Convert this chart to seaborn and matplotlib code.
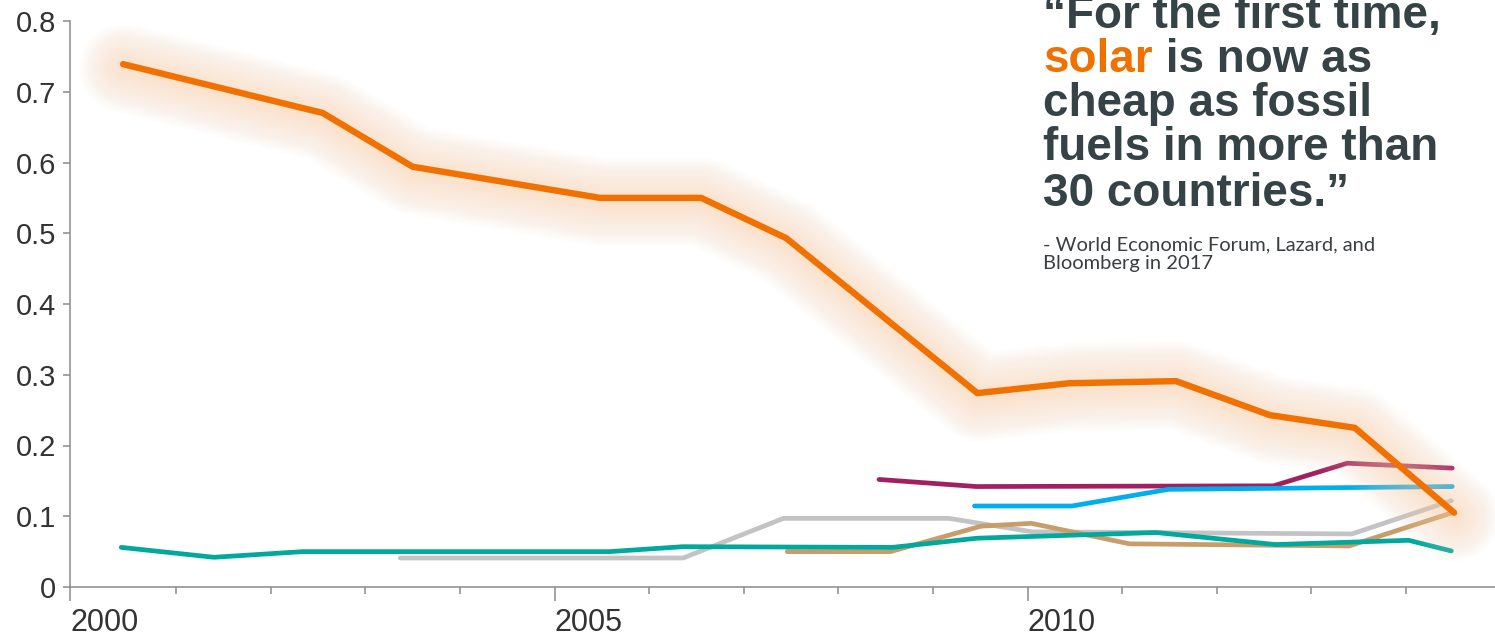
import numpy as np
import pandas as pd
import matplotlib
matplotlib.use("Agg")
import matplotlib.pyplot as plt
import matplotlib.transforms as mtransforms
import seaborn as sns

# ---------------- data (x = decimal year) ----------------
solar_x = [2000.44, 2002.55, 2003.50, 2005.48, 2006.55, 2007.45, 2009.47,
           2010.44, 2011.57, 2012.56, 2013.46, 2014.51]
solar_y = [0.739, 0.670, 0.594, 0.550, 0.550, 0.493, 0.274,
           0.288, 0.291, 0.243, 0.225, 0.105]

teal_x = [2000.42, 2001.40, 2002.34, 2005.58, 2006.36, 2008.57, 2009.47,
          2011.36, 2012.62, 2014.03, 2014.48]
teal_y = [0.056, 0.042, 0.050, 0.050, 0.057, 0.056, 0.069,
          0.077, 0.060, 0.066, 0.051]

gray_x = [2003.37, 2006.36, 2007.42, 2009.17, 2010.05, 2013.43, 2014.48]
gray_y = [0.041, 0.041, 0.097, 0.097, 0.078, 0.075, 0.122]

tan_x = [2007.46, 2008.55, 2009.51, 2010.04, 2011.08, 2013.40, 2014.49]
tan_y = [0.050, 0.050, 0.086, 0.090, 0.061, 0.058, 0.105]

magenta_x = [2008.43, 2009.46, 2012.60, 2013.38, 2014.49]
magenta_y = [0.152, 0.142, 0.143, 0.175, 0.168]

blue_x = [2009.44, 2010.47, 2011.49, 2014.49]
blue_y = [0.1145, 0.1145, 0.138, 0.142]

y_ticks = [0, 0.1, 0.2, 0.3, 0.4, 0.5, 0.6, 0.7, 0.8]
y_tick_labels = ["0", "0.1", "0.2", "0.3", "0.4", "0.5", "0.6", "0.7", "0.8"]
x_major_labels = ["2000", "2005", "2010"]
minor_years = list(range(2001, 2015))

quote_lines = ["\u201cFor the first time,", "solar", " is now as",
               "cheap as fossil", "fuels in more than", "30 countries.\u201d"]
source_lines = ["- World Economic Forum, Lazard, and", "Bloomberg in 2017"]

# ---------------- styling ----------------
ORANGE = "#F07000"
GLOW = "#FAD3AE"
TEAL = "#00A99B"
GRAY = "#C3C3C5"
TAN = "#C99D6A"
MAGENTA = "#A2205F"
BLUE = "#00AEEF"
TEXT_DARK = "#354246"
AXIS_GRAY = "#8A8A8A"

sns.set_theme(style="white")
plt.rcParams["font.family"] = ["Liberation Sans", "DejaVu Sans"]

W, H = 1495, 637
fig = plt.figure(figsize=(W / 100, H / 100), dpi=100)
ax_left, ax_right = 70 / W, 1.0
ax_bottom, ax_top = (H - 587) / H, (H - 21) / H
ax = fig.add_axes([ax_left, ax_bottom, ax_right - ax_left, ax_top - ax_bottom])
ax.patch.set_alpha(0)

x_lo = 2000 + (70 - 81.5) / 94.6
x_hi = 2000 + (1495 - 81.5) / 94.6

def draw(xs, ys, color, lw, z, alpha=1.0, offset=None):
    df = pd.DataFrame({"x": xs, "y": ys})
    sns.lineplot(data=df, x="x", y="y", color=color, lw=lw, ax=ax,
                 sort=False, estimator=None, zorder=z, alpha=alpha,
                 solid_capstyle="round", solid_joinstyle="round")
    line = ax.lines[-1]
    if offset is not None:
        line.set_transform(ax.transData + mtransforms.ScaledTranslation(
            offset[0] / 100, offset[1] / 100, fig.dpi_scale_trans))

LW = 3.4
draw(gray_x, gray_y, GRAY, LW, 2)
draw(tan_x, tan_y, TAN, LW, 3)
draw(teal_x, teal_y, TEAL, LW, 4)
draw(magenta_x, magenta_y, MAGENTA, LW, 4)
draw(blue_x, blue_y, BLUE, LW, 4)

# soft glow behind the solar line
for w in np.linspace(64, 6, 22):
    draw(solar_x, solar_y, GLOW, w, 5, alpha=0.03, offset=(1, -4))
draw(solar_x, solar_y, ORANGE, 4.6, 6)

ax.set_xlim(x_lo, x_hi)
ax.set_ylim(0, 0.8)
ax.set_xlabel("")
ax.set_ylabel("")

ax.set_yticks(y_ticks)
ax.set_yticklabels(y_tick_labels)
ax.set_xticks([x_lo, 2005, 2010])
ax.set_xticklabels(x_major_labels, ha="left")
ax.set_xticks(minor_years, minor=True)

for s in ["top", "right"]:
    ax.spines[s].set_visible(False)
for s in ["left", "bottom"]:
    ax.spines[s].set_color(AXIS_GRAY)
    ax.spines[s].set_linewidth(1.1)

ax.tick_params(axis="y", which="major", direction="out", length=5, width=1.1,
               color=AXIS_GRAY, labelsize=21, labelcolor="#333333", pad=5, left=True)
ax.tick_params(axis="x", which="major", direction="out", length=10, width=1.1,
               color=AXIS_GRAY, labelsize=22, labelcolor="#333333", pad=5, bottom=True)
ax.tick_params(axis="x", which="minor", direction="out", length=5, width=1.1,
               color=AXIS_GRAY, bottom=True)
for lbl in ax.get_xticklabels():
    lbl.set_horizontalalignment("left")

# ---------------- quote text ----------------
qx = 1043 / W
qfont = dict(fontsize=33, fontweight="bold", family=["Liberation Sans", "DejaVu Sans"],
             va="baseline", ha="left")
baselines = [28, 72, 116, 160, 206]
fig.text(qx, 1 - baselines[0] / H, quote_lines[0], color=TEXT_DARK, **qfont)
t_solar = fig.text(qx, 1 - baselines[1] / H, quote_lines[1], color=ORANGE, **qfont)
fig.canvas.draw()
bb = t_solar.get_window_extent(renderer=fig.canvas.get_renderer())
fig.text(qx, 1 - baselines[1] / H, quote_lines[2], color=TEXT_DARK,
         transform=mtransforms.offset_copy(fig.transFigure, fig=fig, x=bb.width, y=0, units="dots"),
         **qfont)
fig.text(qx, 1 - baselines[2] / H, quote_lines[3], color=TEXT_DARK, **qfont)
fig.text(qx, 1 - baselines[3] / H, quote_lines[4], color=TEXT_DARK, **qfont)
fig.text(qx, 1 - baselines[4] / H, quote_lines[5], color=TEXT_DARK, **qfont)

for i, line in enumerate(source_lines):
    fig.text(qx, 1 - (250 + 19 * i) / H, line, color="#3a3f42", fontsize=14.5,
             family=["Lato", "DejaVu Sans"], va="baseline", ha="left")

fig.savefig("out.png", dpi=100)
